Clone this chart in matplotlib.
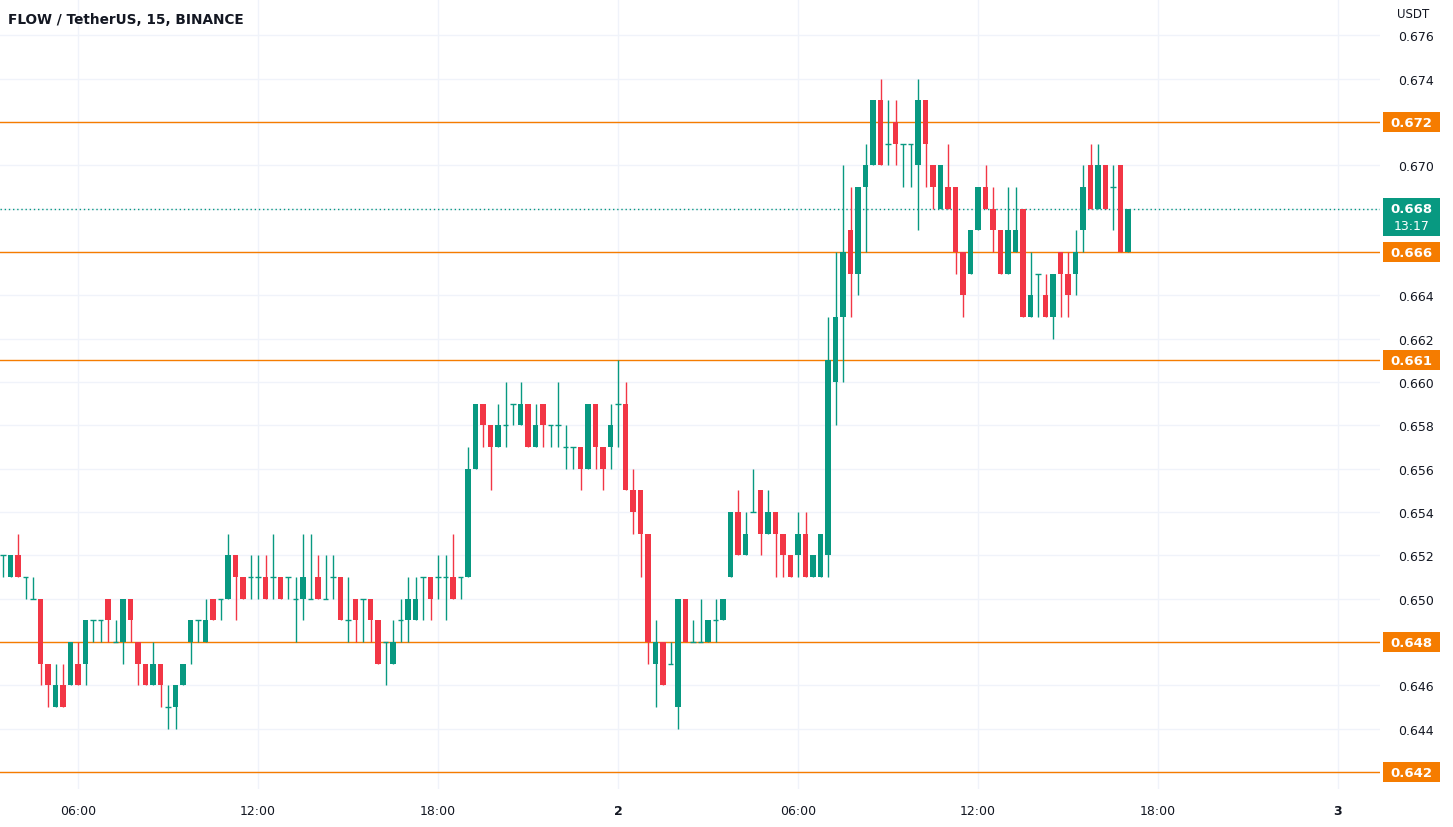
import numpy as np
import matplotlib.pyplot as plt
from matplotlib.patches import Rectangle
from matplotlib.transforms import blended_transform_factory

# FLOW/USDT 15 min candles, prices in 1/1000 USDT
# first candle is 03:30 of day 1 (bar index -82 relative to 00:00 of day 2)
opens = [652, 651, 652, 651, 650, 650, 647, 645, 646, 646, 647, 647, 649,
         649, 650, 648, 648, 650, 648, 647, 646, 647, 645, 645, 646, 648,
         649, 648, 650, 650, 650, 652, 651, 651, 651, 651, 651, 651, 651,
         650, 650, 650, 651, 650, 651, 651, 649, 650, 650, 650, 649,
         648, 647, 649, 649, 649, 651, 651, 651, 651, 651, 651, 651, 656,
         659, 658, 657, 658, 659, 658, 659, 657, 659, 658, 658, 657, 657,
         657, 656, 659, 657, 657, 659, 659, 655, 655, 653, 647, 648,
         647, 645, 650, 648, 648, 648, 649, 649, 651, 654, 652, 654, 655,
         653, 654, 653, 652, 652, 653, 651, 651, 652, 660, 663, 667, 665,
         669, 670, 673, 671, 672, 671, 671, 670, 673, 670, 668, 669,
         669, 666, 665, 667, 669, 668, 667, 665, 666, 668, 663, 665, 664,
         663, 666, 665, 665, 667, 670, 668, 670, 669, 670, 666]
highs = [652, 652, 653, 651, 651, 650, 647, 647, 647, 648, 648, 649, 649,
         649, 650, 649, 650, 650, 648, 647, 648, 647, 646, 646, 647, 649,
         649, 650, 650, 650, 653, 652, 651, 652, 652, 652, 653, 651, 651,
         651, 653, 653, 652, 652, 652, 651, 651, 650, 650, 650, 649,
         648, 649, 650, 651, 651, 651, 651, 652, 652, 653, 651, 657, 659,
         659, 658, 659, 660, 659, 660, 659, 659, 659, 658, 660, 658, 657,
         657, 659, 659, 657, 659, 661, 660, 656, 655, 653, 649, 648,
         648, 650, 650, 649, 650, 649, 650, 650, 654, 655, 654, 656, 655,
         655, 654, 653, 652, 654, 654, 652, 653, 663, 666, 670, 669, 669,
         671, 673, 674, 673, 673, 671, 671, 674, 673, 670, 670, 671,
         669, 666, 667, 669, 670, 669, 667, 669, 669, 668, 666, 665, 665,
         665, 666, 666, 667, 670, 671, 671, 670, 670, 670, 668]
lows = [651, 651, 651, 650, 650, 646, 645, 645, 645, 646, 646, 646, 648,
        648, 648, 648, 647, 648, 646, 646, 646, 645, 644, 644, 646, 647,
        648, 648, 649, 649, 650, 649, 650, 650, 650, 650, 650, 650, 650,
        648, 649, 650, 650, 650, 650, 649, 648, 648, 648, 648, 647,
        646, 647, 648, 648, 649, 649, 649, 650, 649, 650, 650, 651, 656,
        657, 655, 657, 657, 658, 658, 657, 657, 657, 657, 657, 656, 656,
        655, 656, 656, 655, 656, 657, 655, 653, 651, 647, 645, 646,
        647, 644, 648, 648, 648, 648, 648, 649, 651, 652, 652, 654, 652,
        653, 651, 651, 651, 651, 651, 651, 651, 651, 658, 660, 663, 664,
        666, 670, 670, 670, 670, 669, 669, 667, 669, 668, 668, 668,
        665, 663, 665, 667, 668, 666, 665, 665, 666, 663, 663, 663, 663,
        662, 663, 663, 664, 666, 668, 668, 668, 667, 666, 666]
closes = [652, 652, 651, 651, 650, 647, 646, 646, 645, 648, 646, 649, 649,
          649, 649, 648, 650, 649, 647, 646, 647, 646, 645, 646, 647, 649,
          649, 649, 649, 650, 652, 651, 650, 651, 651, 650, 651, 650, 651,
          650, 651, 650, 650, 650, 651, 649, 649, 649, 650, 649, 647,
          648, 648, 649, 650, 650, 651, 650, 651, 651, 650, 651, 656, 659,
          658, 657, 658, 658, 659, 659, 657, 658, 658, 658, 658, 657, 657,
          656, 659, 657, 656, 658, 659, 655, 654, 653, 648, 648, 646,
          647, 650, 648, 648, 648, 649, 649, 650, 654, 652, 653, 654, 653,
          654, 653, 652, 651, 653, 651, 652, 653, 661, 663, 666, 665, 669,
          670, 673, 670, 671, 671, 671, 671, 673, 671, 669, 670, 668,
          666, 664, 667, 669, 668, 667, 665, 667, 667, 663, 664, 665, 663,
          665, 665, 664, 666, 669, 668, 670, 668, 669, 666, 668]
first_bar = -82

levels = [0.672, 0.666, 0.661, 0.648, 0.642]
last_price = 0.668
countdown = "13:17"

time_ticks = [-72, -48, -24, 0, 24, 48, 72, 96]
time_labels = ["06:00", "12:00", "18:00", "2", "06:00", "12:00", "18:00", "3"]
price_ticks = np.arange(642, 677, 2) / 1000

GREEN = "#089981"
RED = "#f23645"
ORANGE = "#f57c00"
TEXT = "#131722"
GRID = "#f0f3fa"

o = np.array(opens)
h = np.array(highs)
l = np.array(lows)
c = np.array(closes)
x = np.arange(len(o)) + first_bar
up = c >= o
cols = np.where(up, GREEN, RED)

fig = plt.figure(figsize=(14.53, 8.28), dpi=100)
ax = fig.add_axes([0, 38 / 828, 1380 / 1453, 1 - 38 / 828])

# grid
for t in time_ticks:
    ax.axvline(t, color=GRID, lw=1, zorder=0)
for p in price_ticks:
    ax.axhline(p, color=GRID, lw=1, zorder=0)

# candles
ax.vlines(x, l / 1000, h / 1000, colors=cols, lw=1, zorder=2)
ax.bar(x, np.abs(c - o) / 1000, bottom=np.minimum(o, c) / 1000, width=0.68,
       color=cols, lw=0, zorder=3)
doji = c == o
ax.hlines(o[doji] / 1000, x[doji] - 0.34, x[doji] + 0.34, colors=GREEN, lw=1, zorder=3)

# horizontal levels
for lv in levels:
    ax.axhline(lv, color=ORANGE, lw=1, zorder=1)
ax.axhline(last_price, color=GREEN, lw=1, ls=(0, (1, 2)), zorder=1)

ax.set_xlim(-82.4, 101.6)
ax.set_ylim(0.64122, 0.67768)

ax.set_xticks(time_ticks)
ax.set_xticklabels(time_labels)
for i, lab in enumerate(ax.get_xticklabels()):
    if time_labels[i] in ("2", "3"):
        lab.set_fontweight("bold")

# tick labels hidden under the price labels are left empty
covered = levels + [last_price]
ax.yaxis.tick_right()
ax.set_yticks(price_ticks)
ax.set_yticklabels(["" if any(abs(p - v) < 1e-6 for v in covered) else "%.3f" % p
                    for p in price_ticks])
ax.tick_params(axis="x", length=0, pad=11, labelsize=9, labelcolor=TEXT)
ax.tick_params(axis="y", length=0, pad=13, labelsize=9, labelcolor=TEXT)
for s in ax.spines.values():
    s.set_visible(False)

# price labels on the axis
px = 1.0 / 1380          # one pixel in axes x units
py = 0.001 / 21.667      # one pixel in price units
tr = blended_transform_factory(ax.transAxes, ax.transData)
box_x0 = 1 + 3 * px
box_w = 57 * px
box_xc = box_x0 + box_w / 2
for lv in levels:
    ax.add_patch(Rectangle((box_x0, lv - 10 * py), box_w, 20 * py, transform=tr,
                           fc=ORANGE, ec="none", clip_on=False, zorder=9))
    ax.text(box_xc, lv, "%.3f" % lv, transform=tr, ha="center", va="center",
            fontsize=9.5, fontweight="bold", color="white", clip_on=False, zorder=10)

ax.add_patch(Rectangle((box_x0, last_price - 27 * py), box_w, 38 * py, transform=tr,
                       fc=GREEN, ec="none", clip_on=False, zorder=11))
ax.text(box_xc, last_price, "%.3f" % last_price, transform=tr, ha="center", va="center",
        fontsize=9.5, fontweight="bold", color="white", clip_on=False, zorder=12)
ax.text(box_xc, last_price - 17 * py, countdown, transform=tr, ha="center", va="center",
        fontsize=9, color="white", clip_on=False, zorder=12)

fig.text(8 / 1453, 1 - 20 / 828, "FLOW / TetherUS, 15, BINANCE", ha="left", va="center",
         fontsize=9.8, fontweight="bold", color=TEXT)
fig.text(1397 / 1453, 1 - 15 / 828, "USDT", ha="left", va="center", fontsize=8.5, color=TEXT)

fig.savefig("out.png", dpi=100, facecolor="white")
